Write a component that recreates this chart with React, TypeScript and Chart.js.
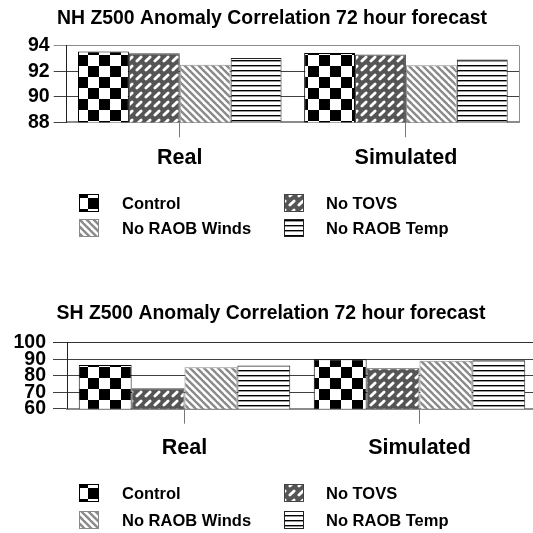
import React, { useEffect, useRef } from 'react';
import { Chart, registerables } from 'chart.js';
Chart.register(...registerables);

const FONT = '"Liberation Sans", Arial, Helvetica, sans-serif';

const categories = ['Real', 'Simulated'];
const seriesNames = ['Control', 'No TOVS', 'No RAOB Winds', 'No RAOB Temp'];
const nhTitle = 'NH Z500 Anomaly Correlation 72 hour forecast';
const shTitle = 'SH Z500 Anomaly Correlation 72 hour forecast';

const nhControl = [93.55, 93.42];
const nhNoTovs = [93.4, 93.3];
const nhNoRaobWinds = [92.5, 92.47];
const nhNoRaobTemp = [93.04, 92.92];

const shControl = [86.5, 89.9];
const shNoTovs = [72.4, 84.5];
const shNoRaobWinds = [85.1, 89.1];
const shNoRaobTemp = [86.2, 89.3];

const nhTicks = [88, 90, 92, 94];
const shTicks = [60, 70, 80, 90, 100];

const borderColors = ['#000000', '#444444', '#8a8a8a', '#222222'];

function tile(w: number, h: number, draw: (g: CanvasRenderingContext2D) => void) {
  const c = document.createElement('canvas');
  c.width = w;
  c.height = h;
  const g = c.getContext('2d') as CanvasRenderingContext2D;
  draw(g);
  return c;
}

function makePatterns(ctx: CanvasRenderingContext2D) {
  const checker = tile(22, 22, (g) => {
    g.fillStyle = '#fff';
    g.fillRect(0, 0, 22, 22);
    g.fillStyle = '#000';
    g.fillRect(0, 0, 11, 11);
    g.fillRect(11, 11, 11, 11);
  });
  const weave = tile(9, 9, (g) => {
    g.fillStyle = '#555555';
    g.fillRect(0, 0, 9, 9);
    g.strokeStyle = '#fff';
    g.lineWidth = 2.8;
    g.lineCap = 'round';
    for (const dx of [-9, 0, 9]) {
      for (const dy of [-9, 0, 9]) {
        g.beginPath();
        g.moveTo(1.9 + dx, 7.1 + dy);
        g.lineTo(6.1 + dx, 2.9 + dy);
        g.stroke();
      }
    }
  });
  const diag = tile(7, 7, (g) => {
    g.fillStyle = '#fff';
    g.fillRect(0, 0, 7, 7);
    g.strokeStyle = '#8a8a8a';
    g.lineWidth = 2.4;
    for (const x0 of [-7, 0, 7]) {
      g.beginPath();
      g.moveTo(x0 - 1, -1);
      g.lineTo(x0 + 8, 8);
      g.stroke();
    }
  });
  const horiz = tile(4, 5, (g) => {
    g.fillStyle = '#fff';
    g.fillRect(0, 0, 4, 5);
    g.fillStyle = '#000';
    g.fillRect(0, 0, 4, 1.4);
  });
  return [checker, weave, diag, horiz].map((c) => ctx.createPattern(c, 'repeat') as CanvasPattern);
}

type Geo = {
  width: number;
  height: number;
  top: number;
  padLeft: number;
  yWidth: number;
  rightWidth: number;
  titleTop: number;
  titleBottom: number;
  padBottom: number;
  xHeight: number;
  xTickPad: number;
  yTickLen: number;
  yTickPad: number;
  legendOffset: number;
  legendRowGap: number;
  rightBorder: boolean;
  topGridColor: string;
};

function Panel(props: { title: string; series: number[][]; ticks: number[]; geo: Geo }) {
  const ref = useRef<HTMLCanvasElement | null>(null);
  const { title, series, ticks, geo } = props;
  useEffect(() => {
    const canvas = ref.current as HTMLCanvasElement;
    const ctx = canvas.getContext('2d') as CanvasRenderingContext2D;
    const patterns = makePatterns(ctx);
    const yMin = ticks[0];
    const yMax = ticks[ticks.length - 1];
    const step = ticks[1] - ticks[0];

    const legendPlugin = {
      id: 'patternLegend',
      afterDraw(chart: any) {
        const c = chart.ctx as CanvasRenderingContext2D;
        const area = chart.chartArea;
        const iconX = [79, 284];
        const textX = [122, 326];
        c.save();
        if (geo.rightBorder) {
          c.strokeStyle = '#8c8c8c';
          c.lineWidth = 1;
          c.beginPath();
          c.moveTo(Math.round(area.right) + 0.5, area.top);
          c.lineTo(Math.round(area.right) + 0.5, area.bottom);
          c.stroke();
        }
        c.font = `bold 16.5px ${FONT}`;
        c.textBaseline = 'middle';
        c.textAlign = 'left';
        seriesNames.forEach((name, i) => {
          const col = i % 2;
          const row = Math.floor(i / 2);
          const cy = Math.round(area.bottom + geo.legendOffset + row * geo.legendRowGap);
          const x = iconX[col];
          const y = cy - 9;
          c.fillStyle = patterns[i];
          c.fillRect(x, y, 20, 18);
          c.strokeStyle = borderColors[i];
          c.lineWidth = 1;
          c.strokeRect(x + 0.5, y + 0.5, 19, 17);
          c.fillStyle = '#000';
          c.fillText(name, textX[col], cy + 1);
        });
        c.restore();
      },
    };

    const chart = new Chart(ctx, {
      type: 'bar',
      data: {
        labels: categories,
        datasets: series.map((d, i) => ({
          label: seriesNames[i],
          data: d,
          backgroundColor: patterns[i],
          borderColor: borderColors[i],
          borderWidth: 1,
          categoryPercentage: 0.9,
          barPercentage: 1.0,
        })),
      },
      options: {
        responsive: false,
        animation: false,
        devicePixelRatio: 1,
        layout: { padding: { left: geo.padLeft, right: 0, top: 0, bottom: geo.padBottom } },
        plugins: {
          legend: { display: false },
          tooltip: { enabled: false },
          title: {
            display: true,
            text: title,
            color: '#000',
            font: { family: FONT, size: 19.4, weight: 'bold' },
            padding: { top: geo.titleTop, bottom: geo.titleBottom },
          },
        },
        scales: {
          x: {
            type: 'category',
            offset: true,
            grid: {
              display: true,
              drawOnChartArea: false,
              drawTicks: true,
              tickLength: 15,
              offset: false,
              color: '#777',
              lineWidth: 1,
            },
            border: { display: true, color: '#8c8c8c', width: 2 },
            ticks: {
              color: '#000',
              font: { family: FONT, size: 21.5, weight: 'bold' },
              padding: geo.xTickPad,
              maxRotation: 0,
              autoSkip: false,
            },
            afterFit: (s: any) => {
              s.height = geo.xHeight;
            },
          },
          y: {
            type: 'linear',
            min: yMin,
            max: yMax,
            ticks: {
              stepSize: step,
              autoSkip: false,
              color: '#000',
              font: { family: FONT, size: 19.5, weight: 'bold' },
              padding: geo.yTickPad,
            },
            grid: {
              drawTicks: true,
              tickLength: geo.yTickLen,
              color: (c: any) => (c.tick && c.tick.value === yMax ? geo.topGridColor : '#404040'),
              lineWidth: 1,
            },
            border: { display: true, color: '#222', width: 1 },
            afterFit: (s: any) => {
              s.width = geo.yWidth;
            },
          },
          y2: {
            type: 'linear',
            position: 'right',
            display: true,
            grid: { display: false, drawTicks: false },
            ticks: { display: false },
            border: { display: false },
            afterFit: (s: any) => {
              s.width = geo.rightWidth;
            },
          },
        },
      } as any,
      plugins: [legendPlugin],
    });
    return () => chart.destroy();
  }, [title, series, ticks, geo]);

  return (
    <canvas
      ref={ref}
      width={geo.width}
      height={geo.height}
      style={{ position: 'absolute', left: 0, top: geo.top, width: geo.width, height: geo.height }}
    />
  );
}

const nhGeo: Geo = {
  width: 533,
  height: 290,
  top: 0,
  padLeft: 11,
  yWidth: 55.7,
  rightWidth: 14,
  titleTop: 7.4,
  titleBottom: 15,
  padBottom: 120,
  xHeight: 47.7,
  xTickPad: 8,
  yTickLen: 13,
  yTickPad: 4,
  legendOffset: 81,
  legendRowGap: 25,
  rightBorder: true,
  topGridColor: '#8c8c8c',
};

const shGeo: Geo = {
  width: 540,
  height: 243,
  top: 290,
  padLeft: 2,
  yWidth: 65,
  rightWidth: 3,
  titleTop: 12.4,
  titleBottom: 17,
  padBottom: 76.3,
  xHeight: 48,
  xTickPad: 11,
  yTickLen: 14,
  yTickPad: 7,
  legendOffset: 84.6,
  legendRowGap: 27,
  rightBorder: false,
  topGridColor: '#333333',
};

const nhSeries = [nhControl, nhNoTovs, nhNoRaobWinds, nhNoRaobTemp];
const shSeries = [shControl, shNoTovs, shNoRaobWinds, shNoRaobTemp];

export default function App() {
  return (
    <div
      style={{
        position: 'absolute',
        left: 0,
        top: 0,
        width: 533,
        height: 533,
        overflow: 'hidden',
        background: '#fff',
      }}
    >
      <Panel title={nhTitle} series={nhSeries} ticks={nhTicks} geo={nhGeo} />
      <Panel title={shTitle} series={shSeries} ticks={shTicks} geo={shGeo} />
    </div>
  );
}
